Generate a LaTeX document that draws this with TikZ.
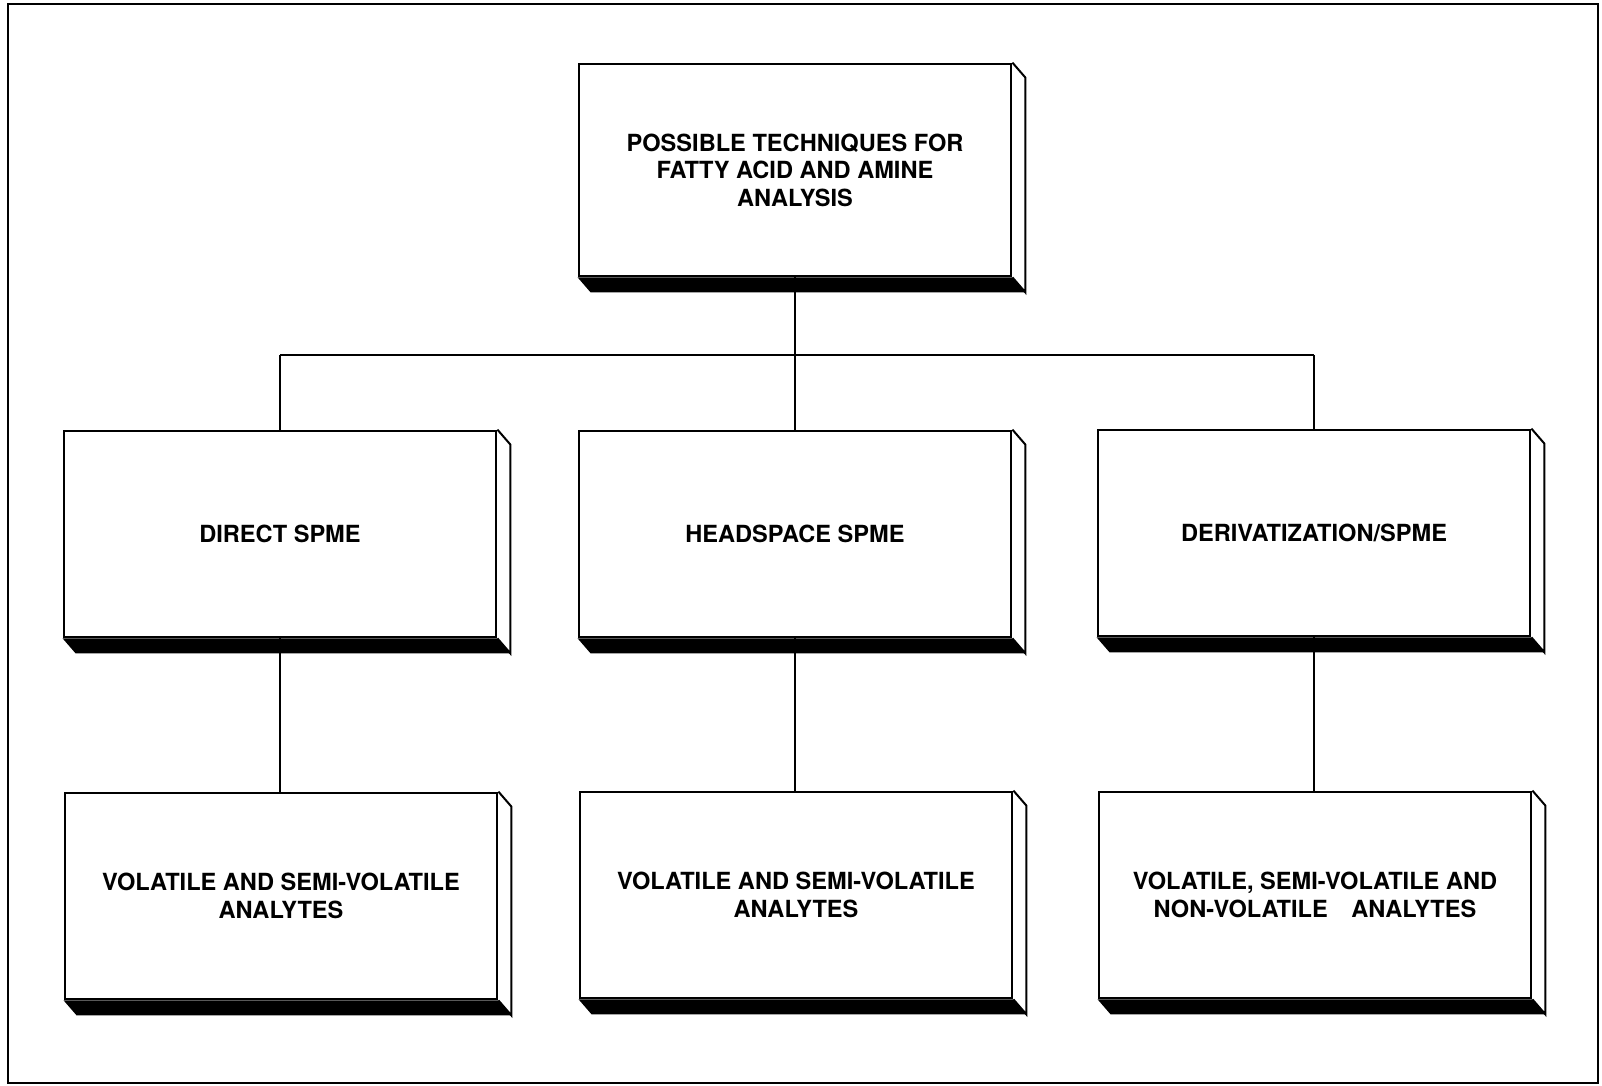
\documentclass[tikz,border=0pt]{standalone}
\usepackage{fontspec}
\setmainfont{TeX Gyre Heros}
\usetikzlibrary{positioning}
\usetikzlibrary{math}
\usetikzlibrary{calc}

\tikzset{
  slab/.style={draw, line width=1.4pt, fill=white, align=center,
    minimum width=216pt, minimum height=103pt, inner sep=2pt,
    font=\fontsize{11.8}{13.8}\selectfont\bfseries},
  link/.style={line width=1.1pt}
}

\begin{document}
\begin{tikzpicture}[x=0.5pt,y=-0.5pt]

  \tikzmath{
    \dx = 13; % depth of the slab to the right
    \dy = 15; % depth of the slab downwards
  }

  % page and frame
  \useasboundingbox (0,0) rectangle (1602,1086);
  \draw[line width=1.3pt] (8,4) rectangle (1598,1083);

  % boxes
  \node[slab, minimum height=106pt] (top) at (795,170)
    {POSSIBLE TECHNIQUES FOR\\FATTY ACID AND AMINE\\ANALYSIS};

  \node[slab] (direct) at (280,534) {DIRECT SPME};
  \node[slab] (head)   at (795,534) {HEADSPACE SPME};
  \node[slab] (deriv)  at (1314,533) {DERIVATIZATION/SPME};

  \node[slab] (vdirect) at (281,896) {VOLATILE AND SEMI-VOLATILE\\ANALYTES};
  \node[slab] (vhead)   at (796,895) {VOLATILE AND SEMI-VOLATILE\\ANALYTES};
  \node[slab] (vderiv)  at (1315,895)
    {VOLATILE, SEMI-VOLATILE AND\\NON-VOLATILE\quad ANALYTES};

  % depth of every slab
  \foreach \n in {top,direct,head,deriv,vdirect,vhead,vderiv} {
    \fill (\n.south west) -- ++(\dx,\dy) -- ($(\n.south east)+(\dx,\dy)$)
      -- (\n.south east) -- cycle;
    \draw[line width=1pt] (\n.north east) -- ++(\dx,\dy)
      -- ($(\n.south east)+(\dx,\dy)$) -- (\n.south east);
  }

  % connectors
  \coordinate (fork) at (top.south |- 0,355);
  \draw[link] (top.south) -- (fork);
  \draw[link] (direct.north |- fork) -- (deriv.north |- fork);
  \draw[link] (direct.north |- fork) -- (direct.north);
  \draw[link] (fork) -- (head.north);
  \draw[link] (deriv.north |- fork) -- (deriv.north);

  \draw[link] (direct.south) -- (direct.south |- vdirect.north);
  \draw[link] (head.south) -- (head.south |- vhead.north);
  \draw[link] (deriv.south) -- (deriv.south |- vderiv.north);

\end{tikzpicture}
\end{document}
